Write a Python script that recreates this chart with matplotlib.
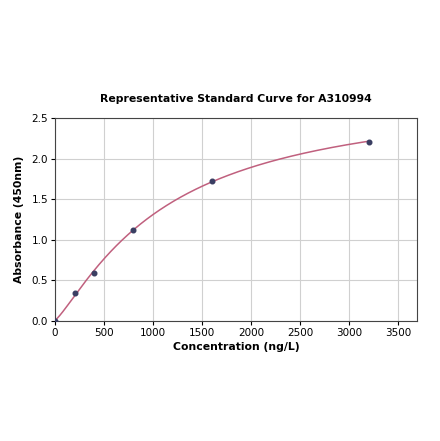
import matplotlib
matplotlib.use("Agg")
import matplotlib.pyplot as plt
import numpy as np

conc = [0, 200, 400, 800, 1600, 3200]
absorb = [0.0, 0.35, 0.59, 1.12, 1.73, 2.21]
x_ticks = [0, 500, 1000, 1500, 2000, 2500, 3000, 3500]
y_ticks = [0.0, 0.5, 1.0, 1.5, 2.0, 2.5]


def four_pl(x, a, b, c, d):
    return d + (a - d) / (1.0 + (np.asarray(x, float) / c) ** b)


def fit_4pl(x, y):
    x = np.asarray(x, float)
    y = np.asarray(y, float)
    best = None
    for b in np.linspace(0.8, 2.5, 69):
        for c in np.linspace(300, 6000, 300):
            g = 1.0 / (1.0 + (x / c) ** b)
            A = np.column_stack([g, 1 - g])
            coef, *_ = np.linalg.lstsq(A, y, rcond=None)
            err = np.sum((A @ coef - y) ** 2)
            if best is None or err < best[0]:
                best = (err, coef[0], b, c, coef[1])
    return best[1:]


a, b, c, d = fit_4pl(conc, absorb)

fig = plt.figure(figsize=(4.4, 4.41), dpi=100)
ax = fig.add_axes([0.125, 0.272, 0.823, 0.46])

xs = np.linspace(0, max(conc), 400)
ax.plot(xs, four_pl(xs, a, b, c, d), color="#c0607e", lw=1.1, zorder=2)
ax.scatter(conc, absorb, s=11, color="#3a3e62", zorder=3)

ax.set_xlim(0, 3696)
ax.set_ylim(0, 2.5)
ax.set_xticks(x_ticks)
ax.set_yticks(y_ticks)
ax.set_yticklabels([f"{v:.1f}" for v in y_ticks])
ax.grid(True, color="#d0d0d0", lw=0.8)
ax.set_axisbelow(True)
ax.tick_params(labelsize=7.5, length=3, pad=2)
for s in ax.spines.values():
    s.set_color("#444444")

ax.set_title("Representative Standard Curve for A310994", fontsize=7.8,
             fontweight="bold", pad=12)
ax.set_xlabel("Concentration (ng/L)", fontsize=7.8, fontweight="bold", labelpad=3)
ax.set_ylabel("Absorbance (450nm)", fontsize=7.8, fontweight="bold", labelpad=5)

fig.savefig("out.png", dpi=100)
